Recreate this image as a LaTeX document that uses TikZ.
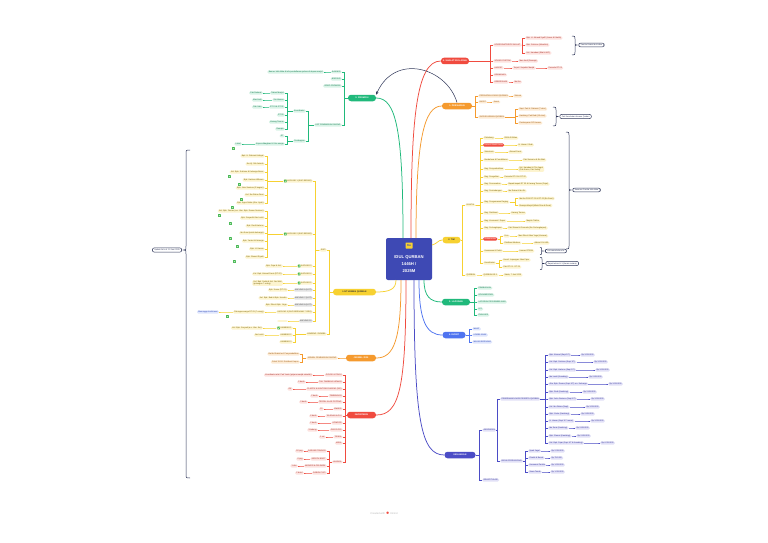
\documentclass[tikz,border=0pt]{standalone}
\usepackage{fontspec}
\setmainfont{Liberation Sans}
\usetikzlibrary{arrows.meta}
\definecolor{redC}{HTML}{F04B3F}
\definecolor{redL}{HTML}{FDE3E0}
\definecolor{redD}{HTML}{A83229}
\definecolor{oraC}{HTML}{F59A2E}
\definecolor{oraL}{HTML}{FDEBD4}
\definecolor{oraD}{HTML}{9C5A10}
\definecolor{yelC}{HTML}{F7D131}
\definecolor{yelL}{HTML}{FDF4CF}
\definecolor{yelD}{HTML}{7A6100}
\definecolor{grnC}{HTML}{20B97B}
\definecolor{grnL}{HTML}{DAF3E7}
\definecolor{grnD}{HTML}{137A50}
\definecolor{bluC}{HTML}{4F74F0}
\definecolor{bluL}{HTML}{DFE6FD}
\definecolor{bluD}{HTML}{2D48B5}
\definecolor{indC}{HTML}{4B4CC6}
\definecolor{indL}{HTML}{E2E1F7}
\definecolor{indD}{HTML}{33349A}
\definecolor{cenC}{HTML}{3E49B4}
\definecolor{navy}{HTML}{2F3658}
\definecolor{chkC}{HTML}{3DB54A}
\newcommand\RK[7]{\node[#1,anchor=west] (#3) at (#5,#6) {#7};\draw[#2] (#4.east) -| ([xshift=-2.5pt]#3.west) -- (#3.west);}
\newcommand\LK[7]{\node[#1,anchor=east] (#3) at (#5,#6) {#7};\draw[#2] (#4.west) -| ([xshift=2.5pt]#3.east) -- (#3.east);}
\newcommand\Rr{\RK{rk}{rl}}
\newcommand\Ro{\RK{ok}{ol}}
\newcommand\Ry{\RK{yk}{yl}}
\newcommand\Rg{\RK{gk}{gl}}
\newcommand\Rb{\RK{bk}{bl}}
\newcommand\Ri{\RK{ik}{il}}
\newcommand\Lr{\LK{rk}{rl}}
\newcommand\Lo{\LK{ok}{ol}}
\newcommand\Ly{\LK{yk}{yl}}
\newcommand\Lg{\LK{gk}{gl}}
\newcommand\chk[2]{\node[chk] at (#1,#2) {};}
\newcommand\rbr[7]{\draw[brl] (#1,#2) .. controls (#1+#5,#2) .. (#1+#5,#2+#5) -- (#1+#5,#4-#5) .. controls (#1+#5,#4) .. (#1+#5+2,#4) .. controls (#1+#5,#4) .. (#1+#5,#4+#5) -- (#1+#5,#3-#5) .. controls (#1+#5,#3) .. (#1,#3); \node[sumbox,anchor=west] (#6) at (#1+#5+3.5,#4) {#7};}
\begin{document}
\begin{tikzpicture}[x=1pt,y=-1pt,
 base/.style={inner xsep=1.3pt, inner ysep=0.8pt, rounded corners=1.3pt, font=\fontsize{2}{2.4}\selectfont, align=left},
 rk/.style={base, fill=redL, text=redD},
 ok/.style={base, fill=oraL, text=oraD},
 yk/.style={base, fill=yelL, text=yelD},
 gk/.style={base, fill=grnL, text=grnD},
 bk/.style={base, fill=bluL, text=bluD},
 ik/.style={base, fill=indL, text=indD},
 grk/.style={base, fill=gray!22, text=gray!55!black},
 rp/.style={base, fill=redC, text=white},
 lnk/.style={line width=0.45pt},
 rl/.style={lnk, draw=redC}, ol/.style={lnk, draw=oraC}, yl/.style={lnk, draw=yelC},
 gl/.style={lnk, draw=grnC}, bl/.style={lnk, draw=bluC}, il/.style={lnk, draw=indC},
 main/.style={line width=0.75pt},
 pill/.style={inner xsep=2pt, inner ysep=0pt, minimum height=6.5pt, rounded corners=3pt, text=white, font=\fontsize{2.2}{2.6}\selectfont\bfseries},
 brl/.style={draw=navy, line width=0.5pt},
 sumbox/.style={draw=navy, line width=0.5pt, fill=white, rounded corners=2pt, inner xsep=2pt, inner ysep=1.2pt, text=navy, font=\fontsize{2}{2.4}\selectfont},
 chk/.style={fill=chkC, minimum size=2.6pt, inner sep=0pt, rounded corners=0.3pt, anchor=north west,
   path picture={\draw[white,line width=0.3pt] ([xshift=0.6pt]path picture bounding box.west) -- ([yshift=0.6pt]path picture bounding box.south) -- ([xshift=-0.5pt,yshift=-0.5pt]path picture bounding box.north east);}}
]
\fill[white] (0,0) rectangle (768,543);
\useasboundingbox (0,0) rectangle (768,543);

% ---------- center ----------
\node[fill=cenC, minimum width=46pt, minimum height=42pt, rounded corners=2pt, inner sep=0pt] (cen) at (409,259) {};
\node[fill=yelC, minimum width=7pt, minimum height=6pt, inner sep=0pt, rounded corners=0.5pt, text=cenC, font=\fontsize{3}{3}\selectfont\bfseries] (icon) at (409,245.5) {Ku};
\node[text=white, align=center, font=\fontsize{4.2}{7}\selectfont\bfseries] (ctitle) at (409,264.5) {IDUL QURBAN\\1446H /\\2025M};

% ---------- main topics ----------
\node[pill, fill=redC, minimum width=27pt] (shalat) at (455,61) {4. SHALAT IDUL ADHA};
\node[pill, fill=oraC, minimum width=30pt] (pers) at (457,106) {1. PERSIAPAN};
\node[pill, fill=yelC, text=black!80, minimum width=18pt] (tim) at (451.5,240) {2. TIM};
\node[pill, fill=grnC, minimum width=28pt] (lap) at (456,302) {3. LAPORAN};
\node[pill, fill=bluC, minimum width=23pt] (event) at (454,335) {4. EVENT};
\node[pill, fill=indC, minimum width=31pt] (keu) at (460,455) {KEUANGAN};
\node[pill, fill=grnC, minimum width=28pt] (promosi) at (362,98) {3. PROMOSI};
\node[pill, fill=yelC, text=black!80, minimum width=43pt] (hewan) at (354.5,292) {LIST HEWAN QURBAN};
\node[pill, fill=oraC, minimum width=30pt] (jadwal) at (361,358) {JADWAL 2025};
\node[pill, fill=redC, minimum width=29pt] (inv) at (361.5,415) {INVENTARIS};

% main connectors
\draw[main, redC] (411,238) .. controls (411,120) and (416,61) .. (shalat.west);
\draw[main, oraC] (416,238) .. controls (416,140) and (424,106) .. (pers.west);
\draw[main, grnC] (403,238) .. controls (403,130) and (396,98) .. (promosi.east);
\draw[main, yelC] (432,245) .. controls (437,244) and (438,240) .. (tim.west);
\draw[main, grnC] (424,280) .. controls (424,296) and (430,302) .. (lap.west);
\draw[main, bluC] (419,280) .. controls (419,320) and (426,335) .. (event.west);
\draw[main, indC] (414,280) .. controls (414,420) and (421,455) .. (keu.west);
\draw[main, yelC] (396,280) .. controls (396,289) and (390,292) .. (hewan.east);
\draw[main, oraC] (401,280) .. controls (401,340) and (394,358) .. (jadwal.east);
\draw[main, redC] (406,280) .. controls (406,390) and (399,415) .. (inv.east);
% relationship arrow
\draw[brl, -{Stealth[length=3pt,width=2.6pt]}] (pers.north) .. controls (447,68) and (395,52) .. (promosi.north east);

% ---------- 4. SHALAT IDUL ADHA ----------
\Rr{s1}{shalat}{493}{45}{KOORDINATOR/PJ SHALAT}
\Rr{s11}{s1}{525}{38}{Bpk. H. Ahmad Syafi'i (Imam \& Khatib)}
\Rr{s12}{s1}{525}{45}{Bpk. Sutrisno (Muadzin)}
\Rr{s13}{s1}{525}{53}{Ust. Hamdani (Bilal \& MC)}
\Rr{s2}{shalat}{493}{61}{SOUND SYSTEM}
\Rr{s21}{s2}{518}{61}{Mas Andi (Remaja)}
\Rr{s3}{shalat}{493}{68}{KARPET}
\Rr{s31}{s3}{512}{68}{Terpal / Sajadah Masjid}
\Rr{s311}{s31}{547}{68}{Pemuda RT 03}
\Rr{s4}{shalat}{493}{75}{KEAMANAN}
\Rr{s5}{shalat}{493}{82}{KEBERSIHAN}
\Rr{s51}{s5}{513}{82}{Ibu-ibu}
\rbr{572}{36}{55}{45}{3}{bs}{Panitia Shalat Idul Adha}

% ---------- 1. PERSIAPAN ----------
\Ro{p1}{pers}{478}{96}{PERSIAPAN LOKASI QURBAN}
\Ro{p11}{p1}{513}{96}{Selesai}
\Ro{p2}{pers}{478}{102}{RAPAT}
\Ro{p21}{p2}{492}{102}{Jumat}
\Ro{p3}{pers}{478}{117}{SURVEI HEWAN QURBAN}
\Ro{p31}{p3}{518}{109}{Sapi: Pak H. Rahmat (7 ekor)}
\Ro{p32}{p3}{518}{116}{Kambing: Pak Budi (10 ekor)}
\Ro{p33}{p3}{518}{123}{Pembayaran DP Hewan}
\rbr{553}{107}{126}{116.5}{3}{bp}{Cek Kesehatan Hewan Qurban}

% ---------- 2. TIM ----------
\Ry{t0}{tim}{465}{205}{PANITIA}
\Ry{tq}{tim}{465}{275}{QURBAN}
\Ry{tq1}{tq}{482}{275}{QURBAN KE-1}
\Ry{tq11}{tq1}{503}{275}{Sabtu, 7 Juni 2025}
\Ry{a1}{t0}{483}{138}{Pelindung}
\Ry{a11}{a1}{503}{138}{DKM Al-Ikhlas}
\RK{rp}{yl}{a2}{t0}{483}{145}{Ketua \& Wakil Ketua}
\Ry{a21}{a2}{517}{145}{H. Hasan / Rudi}
\Ry{a3}{t0}{483}{152}{Sekretaris}
\Ry{a31}{a3}{508}{152}{Ahmad Fauzi}
\Ry{a4}{t0}{483}{160}{Bendahara \& Pendaftaran}
\Ry{a41}{a4}{522}{160}{Pak Sumarno \& Bu Wati}
\Ry{a5}{t0}{483}{169}{Bag. Penyembelihan}
\Ry{a51}{a5}{518}{169}{Ust. Hamdani \& Tim Jagal\\(Pak Karso, Pak Sodiq)}
\Ry{a6}{t0}{483}{177}{Bag. Pengulitan}
\Ry{a61}{a6}{503}{177}{Pemuda RT 01 \& RT 02}
\Ry{a7}{t0}{483}{184}{Bag. Pencacahan}
\Ry{a71}{a7}{507}{184}{Bapak-bapak RT 03 \& Karang Taruna (Fajar)}
\Ry{a8}{t0}{483}{191}{Bag. Penimbangan}
\Ry{a81}{a8}{507}{191}{Ibu Ratna \& Ibu Sri}
\Ry{a9}{t0}{483}{202}{Bag. Pengemasan Daging}
\Ry{a91}{a9}{518}{198.5}{Ibu-ibu PKK RT 01 \& RT 02 (Bu Sumi)}
\Ry{a92}{a9}{518}{205.5}{Remaja Masjid (Mbak Rina \& Dewi)}
\Ry{a10}{t0}{483}{213}{Bag. Distribusi}
\Ry{a101}{a10}{510}{213}{Karang Taruna}
\Ry{a11x}{t0}{483}{221}{Bag. Konsumsi / Dapur}
\Ry{a111}{a11x}{525}{221}{Majelis Taklim}
\Ry{a12}{t0}{483}{228}{Bag. Perlengkapan}
\Ry{a121}{a12}{507}{228}{Pak Slamet \& Pemuda (Sie Perlengkapan)}
\RK{rp}{yl}{a13}{t0}{483}{239}{Dokumentasi}
\Ry{a131}{a13}{503}{236}{Foto}
\Ry{a1311}{a131}{517}{236}{Mas Dika \& Mas Yoga (Kamera)}
\Ry{a132}{a13}{503}{243}{Publikasi Medsos}
\Ry{a1321}{a132}{533}{243}{Admin IG \& WA}
\Ry{a14}{t0}{483}{251}{Keamanan \& Parkir}
\Ry{a141}{a14}{518}{251}{Linmas RT/RW}
\Ry{a15}{t0}{483}{263}{Koordinator}
\Ry{a151}{a15}{502}{260}{Koord. Lapangan: Mas Fajar}
\Ry{a152}{a15}{502}{267}{Pak RT 01 - RT 03}
\rbr{540}{247.5}{254.5}{251}{1.5}{bt2}{List nama belum fix}
\rbr{540}{257.5}{269.5}{263.5}{2}{bt3}{Rapat teknis H-1 (Kamis malam)}
\rbr{566}{132}{249}{190}{3}{bt}{Susunan Panitia Idul Adha}

% ---------- 3. LAPORAN ----------
\Rg{l1}{lap}{477}{288}{PEMBUKUAN}
\Rg{l2}{lap}{477}{295}{DOKUMENTASI}
\Rg{l3}{lap}{477}{302}{LAPORAN PENYEMBELIHAN}
\Rg{l4}{lap}{477}{309}{LPJ}
\Rg{l5}{lap}{477}{315}{EVALUASI}

% ---------- 4. EVENT ----------
\Rb{e1}{event}{472}{329}{MABIT}
\Rb{e2}{event}{472}{335}{LOMBA ANAK}
\Rb{e3}{event}{472}{342}{MAKAN BERSAMA}

% ---------- KEUANGAN ----------
\Ri{k1}{keu}{482}{430}{ANGGARAN}
\Ri{k2}{keu}{482}{480}{REKAPITULASI}
\Ri{k11}{k1}{500}{399}{PENERIMAAN DARI PESERTA QURBAN}
\Ri{k12}{k1}{500}{461}{BIAYA OPERASIONAL}
\Ri{q1}{k11}{548}{355}{Bpk. Ahmad (Sapi 1/7)}
\Ri{q1a}{q1}{580}{355}{Rp 3.500.000}
\Ri{q2}{k11}{548}{362}{Kel. Bpk. Sutrisno (Sapi 1/7)}
\Ri{q2a}{q2}{593}{362}{Rp 3.500.000}
\Ri{q3}{k11}{548}{370}{Kel. Bpk. Hartono (Sapi 1/7)}
\Ri{q3a}{q3}{595}{370}{Rp 3.500.000}
\Ri{q4}{k11}{548}{377}{Ibu Lastri (Kambing)}
\Ri{q4a}{q4}{588}{377}{Rp 2.800.000}
\Ri{q5}{k11}{548}{384}{Alm. Bpk. Darmo (Sapi 1/7) a.n. Keluarga}
\Ri{q5a}{q5}{608}{384}{Rp 3.500.000}
\Ri{q6}{k11}{548}{392}{Bpk. Rudi (Kambing)}
\Ri{q6a}{q6}{582}{392}{Rp 2.800.000}
\Ri{q7}{k11}{548}{399}{Bpk. Joko Santoso (Sapi 1/7)}
\Ri{q7a}{q7}{590}{399}{Rp 3.500.000}
\Ri{q8}{k11}{548}{407}{Kel. Ibu Ratna (Sapi)}
\Ri{q8a}{q8}{585}{407}{Rp 3.500.000}
\Ri{q9}{k11}{548}{414}{Bpk. Yanto (Kambing)}
\Ri{q9a}{q9}{580}{414}{Rp 2.800.000}
\Ri{q10}{k11}{548}{421}{H. Hasan (Sapi 1/7 Lunas)}
\Ri{q10a}{q10}{590}{421}{Rp 3.500.000}
\Ri{q11}{k11}{548}{428}{Ibu Sumi (Kambing)}
\Ri{q11a}{q11}{575}{428}{Rp 2.800.000}
\Ri{q12}{k11}{548}{436}{Bpk. Slamet (Kambing)}
\Ri{q12a}{q12}{576}{436}{Rp 2.800.000}
\Ri{q13}{k11}{548}{443}{Kel. Bpk. Fajar (Sapi 1/7 \& Kambing)}
\Ri{q13a}{q13}{600}{443}{Rp 6.300.000}
\Ri{b1}{k12}{528}{451}{Upah Jagal}
\Ri{b1a}{b1}{550}{451}{Rp 2.000.000}
\Ri{b2}{k12}{528}{458}{Plastik \& Besek}
\Ri{b2a}{b2}{550}{458}{Rp 750.000}
\Ri{b3}{k12}{528}{465}{Konsumsi Panitia}
\Ri{b3a}{b3}{550}{465}{Rp 1.500.000}
\Ri{b4}{k12}{528}{472}{Sewa Tenda}
\Ri{b4a}{b4}{550}{472}{Rp 1.000.000}

% ---------- 3. PROMOSI ----------
\Lg{pr1}{promosi}{342}{72}{BANNER}
\Lg{pr11}{pr1}{324}{72}{Banner Idul Adha \& info pendaftaran qurban di depan masjid}
\Lg{pr2}{promosi}{342}{79}{BROSUR}
\Lg{pr3}{promosi}{342}{86}{VIDEO PROMOSI}
\Lg{pr4}{promosi}{342}{125}{LIST PEMBAGIAN DAGING}
\Lg{pr41}{pr4}{306}{111}{Koordinator}
\Lg{c1}{pr41}{285}{93}{Takmir Masjid}
\Lg{c11}{c1}{263}{93}{Pak Rahmat}
\Lg{c2}{pr41}{285}{100}{Sie Humas}
\Lg{c21}{c2}{263}{100}{Mas Andi}
\Lg{c3}{pr41}{285}{107}{RT 01 \& RT 02}
\Lg{c31}{c3}{263}{107}{Pak Joko}
\Lg{c4}{pr41}{285}{115}{RT 03}
\Lg{c5}{pr41}{285}{122}{Karang Taruna}
\Lg{c6}{pr41}{285}{129}{Remaja}
\Lg{pr42}{pr4}{306}{141}{Pembagian}
\Lg{d1}{pr42}{285}{136}{RT}
\Lg{d2}{pr42}{285}{144}{Kupon dibagikan H-3 ke warga}
\Lg{d21}{d2}{242}{144}{Lokal}
\chk{232}{147}

% ---------- LIST HEWAN QURBAN ----------
\Ly{h1}{hewan}{327}{250}{SAPI}
\Ly{h2}{hewan}{327}{334}{KAMBING / DOMBA}
\Ly{sp1}{h1}{313}{181}{\hspace{3pt}KAPLING 1 (SAPI BESAR)}
\Ly{u1}{sp1}{265}{156}{Bpk. H. Rahmat Hidayat}
\Ly{u2}{sp1}{265}{164}{Ibu Hj. Siti Aminah}
\Ly{u3}{sp1}{265}{172}{Kel. Bpk. Sutrisno \& Keluarga Besar}
\Ly{u4}{sp1}{265}{180}{Bpk. Hartono Wibowo}
\Ly{u5}{sp1}{265}{188}{Bpk. Joko Santoso (2 bagian)}
\Ly{u6}{sp1}{265}{195}{Kel. Ibu Ratna Dewi}
\Ly{u7}{sp1}{265}{203}{Bpk. Agus Salim (Alm. Ayah)}
\Ly{sp2}{h1}{313}{234}{\hspace{3pt}KAPLING 2 (SAPI BESAR)}
\Ly{v1}{sp2}{265}{211}{Kel. Bpk. Darmo (a.n. Alm. Bpk. Darmo Sentono)}
\Ly{v2}{sp2}{265}{218}{Bpk. Suryadi \& Ibu Lastri}
\Ly{v3}{sp2}{265}{226}{Bpk. Rudi Hartono}
\Ly{v4}{sp2}{265}{233}{Ibu Sumi (untuk keluarga)}
\Ly{v5}{sp2}{265}{241}{Bpk. Yanto \& Keluarga}
\Ly{v6}{sp2}{265}{249}{Bpk. H. Hasan}
\Ly{v7}{sp2}{265}{257}{Bpk. Slamet Riyadi}
\Ly{sp3}{h1}{313}{266}{\hspace{3pt}KAPLING 3}
\Ly{w3}{sp3}{283}{266}{Bpk. Fajar \& Kel.}
\Ly{sp4}{h1}{313}{274}{\hspace{3pt}KAPLING 4}
\Ly{w4}{sp4}{283}{274}{Kel. Bpk. Ahmad Fauzi (RT 02)}
\Ly{sp5}{h1}{313}{283}{\hspace{3pt}KAPLING 5}
\Ly{w5}{sp5}{283}{283}{Kel. Bpk. Sodiq \& Kel. Ibu Wati\\(patungan 7 orang)}
\LK{grk}{yl}{sp6}{h1}{313}{290}{KAPLING 6 (LIST)}
\Ly{w6}{sp6}{288}{290}{Bpk. Karso (RT 01)}
\LK{grk}{yl}{sp7}{h1}{313}{298}{KAPLING 7 (LIST)}
\Ly{w7}{sp7}{288}{298}{Kel. Bpk. Budi \& Bpk. Hendra}
\LK{grk}{yl}{sp8}{h1}{313}{305}{KAPLING 8 (LIST)}
\Ly{w8}{sp8}{288}{305}{Bpk. Dika \& Bpk. Yoga}
\Ly{sp9}{h1}{313}{312}{KAPLING 9 (SAPI BERSAMA 7 ORG)}
\Ly{w9}{sp9}{265}{312}{Patungan warga RT 03 (7 orang)}
\LK{bk}{yl}{w91}{w9}{219}{312}{Menunggu konfirmasi}
\LK{grk}{yl}{sp10}{h1}{313}{321}{KAPLING 10}
\Ly{w10}{sp10}{288}{321}{\hspace{8pt}}
\Ly{km1}{h2}{293}{328}{\hspace{3pt}KAMBING 1}
\Ly{km11}{km1}{263}{328}{Kel. Bpk. Suryadi (a.n. Alm. Ibu)}
\Ly{km2}{h2}{293}{335}{KAMBING 2}
\Ly{km21}{km2}{265}{335}{Ibu Lastri}
\Ly{km3}{h2}{293}{342}{KAMBING 3}
\foreach \n in {sp1,sp2,sp3,sp4,sp5,km1}{\node[chk,anchor=west] at ([xshift=1pt]\n.west) {};}
\chk{228}{175}\chk{238}{183}\chk{240}{198}\chk{231}{206}\chk{218}{214}\chk{229}{222}\chk{229}{237}\chk{236}{245}\chk{233}{260}\chk{226}{315}

% ---------- JADWAL ----------
\Lo{j1}{jadwal}{338}{358}{JADWAL PEMBAGIAN DAGING}
\Lo{j11}{j1}{300}{354}{Ba'da Shalat Ied: Penyembelihan}
\Lo{j12}{j1}{300}{362}{Pukul 13.00: Distribusi Kupon}

% ---------- INVENTARIS ----------
\Lr{i1}{inv}{343}{375}{GOLOK \& PISAU}
\Lr{i1a}{i1}{313}{375}{Koordinator alat: Pak Yanto (pinjam masjid sebelah)}
\Lr{i2}{inv}{343}{382}{TALI TAMBANG HEWAN}
\Lr{i2a}{i2}{306}{382}{5 buah}
\Lr{i3}{inv}{343}{389}{PLASTIK \& KANTONG DAGING (500)}
\Lr{i3a}{i3}{293}{389}{OK}
\Lr{i4}{inv}{343}{396}{TIMBANGAN}
\Lr{i4a}{i4}{319}{396}{2 buah}
\Lr{i5}{inv}{343}{402}{TERPAL ALAS POTONG}
\Lr{i5a}{i5}{308}{402}{3 buah}
\Lr{i6}{inv}{343}{409}{EMBER}
\Lr{i6a}{i6}{324}{409}{10}
\Lr{i7}{inv}{343}{416}{TALENAN KAYU}
\Lr{i7a}{i7}{318}{416}{6 buah}
\Lr{i8}{inv}{343}{423}{KOMPOR}
\Lr{i8a}{i8}{318}{423}{2 buah}
\Lr{i9}{inv}{343}{430}{GAS ELPIJI}
\Lr{i9a}{i9}{318}{430}{3 tabung}
\Lr{i10}{inv}{343}{437}{TENDA}
\Lr{i10a}{i10}{326}{437}{1 set}
\Lr{i11}{inv}{343}{443}{MEJA}
\Lr{i12}{inv}{343}{462}{LAINNYA}
\Lr{i121}{i12}{327}{451}{SARUNG TANGAN}
\Lr{i121a}{i121}{304}{451}{50 psg}
\Lr{i122}{i12}{327}{459}{SEPATU BOOT}
\Lr{i122a}{i122}{304}{459}{6 psg}
\Lr{i123}{i12}{327}{466}{MASKER \& CELEMEK}
\Lr{i123a}{i123}{298}{466}{1 dus}
\Lr{i124}{i12}{327}{473}{SABUN CUCI}
\Lr{i124a}{i124}{304}{473}{2 botol}

% ---------- left summary ----------
\draw[brl] (190,150) .. controls (186,150) .. (186,154) -- (186,246) .. controls (186,250) .. (183.5,250) .. controls (186,250) .. (186,254) -- (186,474) .. controls (186,478) .. (190,478);
\node[sumbox, anchor=east] (upd) at (182,250) {Update list s.d. 10 Juni 2025};

% footer
\node[text=gray!55, font=\fontsize{2.6}{3}\selectfont] (foot) at (384,513) {Created with {\color{redC}$\bullet$} Xmind};
\end{tikzpicture}
\end{document}
